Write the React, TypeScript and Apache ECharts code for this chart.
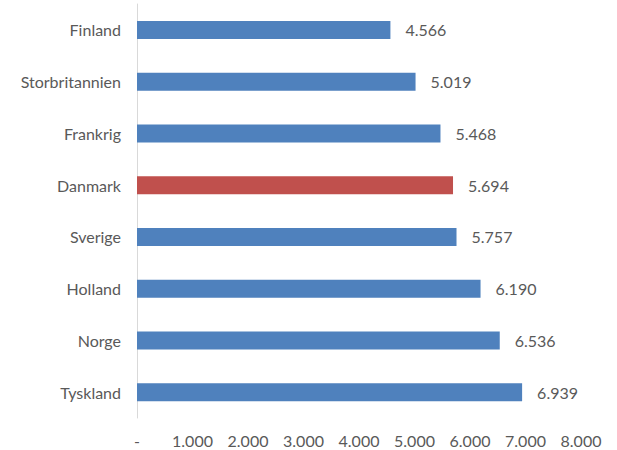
import React, { useEffect, useRef } from "react";
import * as echarts from "echarts";

const categories = ["Finland", "Storbritannien", "Frankrig", "Danmark", "Sverige", "Holland", "Norge", "Tyskland"];
const values = [4566, 5019, 5468, 5694, 5757, 6190, 6536, 6939];
const highlight = "Danmark";

const fmt = (v: number) => {
  if (v === 0) return "-";
  return String(Math.round(v)).replace(/\B(?=(\d{3})+(?!\d))/g, ".");
};

export default function App() {
  const ref = useRef<HTMLDivElement>(null);
  useEffect(() => {
    if (!ref.current) return;
    const chart = echarts.init(ref.current, undefined, { renderer: "svg" });
    const font = "Lato, 'Open Sans', sans-serif";
    chart.setOption({
      animation: false,
      grid: { left: 137, right: 36, top: 4, bottom: 32, containLabel: false },
      xAxis: {
        type: "value",
        min: 0,
        max: 8000,
        interval: 1000,
        axisLine: { show: false },
        axisTick: { show: false },
        splitLine: { show: false },
        axisLabel: { formatter: (v: number) => fmt(v), color: "#595959", fontSize: 16, fontFamily: font, margin: 14 },
      },
      yAxis: {
        type: "category",
        inverse: true,
        data: categories,
        axisLine: { show: true, lineStyle: { color: "#D9D9D9", width: 1 } },
        axisTick: { show: false },
        axisLabel: { color: "#595959", fontSize: 16, fontFamily: font, margin: 16 },
      },
      series: [
        {
          type: "bar",
          barWidth: 18,
          data: values.map((v, i) => ({
            value: v,
            itemStyle: { color: categories[i] === highlight ? "#C0504D" : "#4F81BD" },
          })),
          label: {
            show: true,
            position: "right",
            distance: 15,
            color: "#595959",
            fontSize: 16,
            fontFamily: font,
            formatter: (p: any) => fmt(p.value),
          },
        },
      ],
    });
    return () => chart.dispose();
  }, []);
  return <div ref={ref} style={{ position: "absolute", left: 0, top: 0, width: 617, height: 450 }} />;
}
